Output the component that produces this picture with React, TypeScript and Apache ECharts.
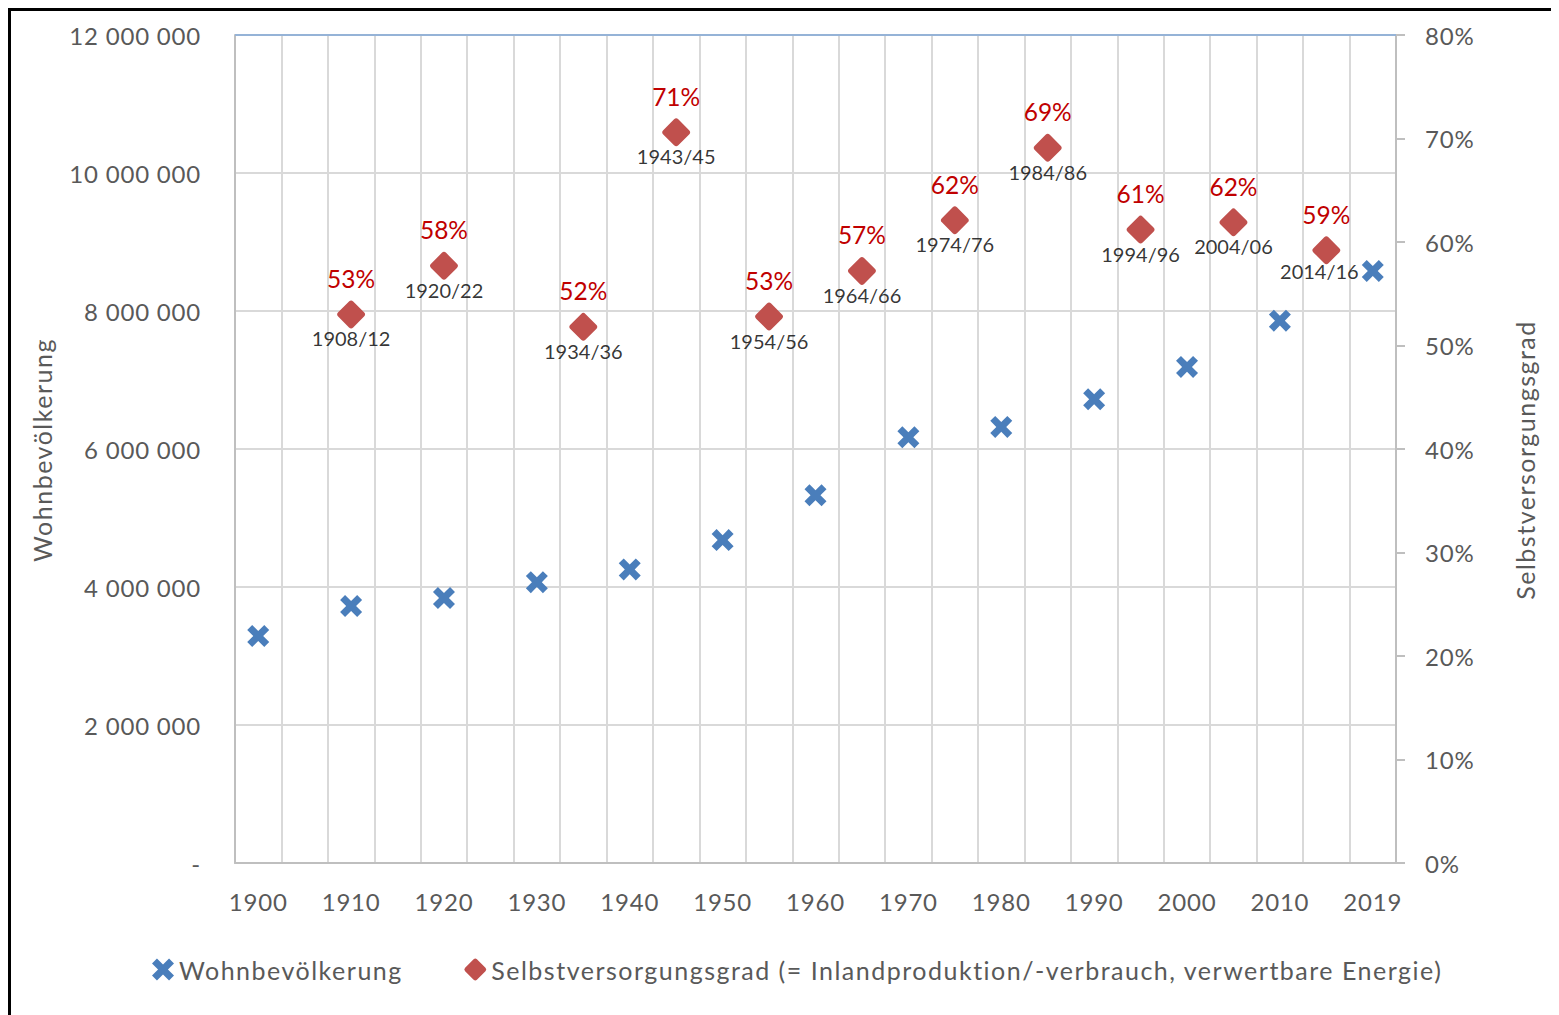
import React, { useEffect, useRef } from "react";
import * as echarts from "echarts";

const years = ["1900", "1910", "1920", "1930", "1940", "1950", "1960", "1970", "1980", "1990", "2000", "2010", "2019"];
const population = [3290000, 3725000, 3840000, 4070000, 4255000, 4680000, 5330000, 6170000, 6320000, 6720000, 7190000, 7860000, 8580000];

const periods = ["1908/12", "1920/22", "1934/36", "1943/45", "1954/56", "1964/66", "1974/76", "1984/86", "1994/96", "2004/06", "2014/16"];
const periodPos = [2, 3, 4.5, 5.5, 6.5, 7.5, 8.5, 9.5, 10.5, 11.5, 12.5];
const selfSufficiency = [53.0, 57.7, 51.8, 70.6, 52.8, 57.2, 62.1, 69.1, 61.2, 61.9, 59.2];

const leftTicks = [0, 2000000, 4000000, 6000000, 8000000, 10000000, 12000000];

const popName = "Wohnbevölkerung";
const ssName = "Selbstversorgungsgrad (= Inlandproduktion/-verbrauch, verwertbare Energie)";

const X_PATH = "path://M0,4.5 L4.5,0 L10,5.5 L15.5,0 L20,4.5 L14.5,10 L20,15.5 L15.5,20 L10,14.5 L4.5,20 L0,15.5 L5.5,10 Z";
const DIAMOND_PATH = "path://M8.6,1.4 Q10,0 11.4,1.4 L18.6,8.6 Q20,10 18.6,11.4 L11.4,18.6 Q10,20 8.6,18.6 L1.4,11.4 Q0,10 1.4,8.6 Z";

const FONT = "Lato, 'Noto Sans', sans-serif";
const GRAY = "#595959";
const BLUE = "#4A7EBB";
const RED = "#C0504D";

function fmtPop(v: number) {
  if (v === 0) return "-";
  return String(v).replace(/\B(?=(\d{3})+(?!\d))/g, " ");
}

const CSS = `
#root text[style*="25px"] { letter-spacing: 1.5px; }
#root text[style*="24px"] { letter-spacing: 0.8px; }
`;

export default function App() {
  const ref = useRef<HTMLDivElement>(null);
  useEffect(() => {
    document.documentElement.style.overflow = "hidden";
    document.body.style.overflow = "hidden";
    if (!ref.current) return;
    const chart = echarts.init(ref.current, undefined, { renderer: "svg" });
    const popData = population.map((v, i) => [i + 1, v]);
    const ssData = selfSufficiency.map((v, i) => [periodPos[i], v]);
    const option: any = {
      animation: false,
      backgroundColor: "#fff",
      textStyle: { fontFamily: FONT },
      grid: { left: 224, top: 24, width: 1161, height: 828, containLabel: false },
      legend: {
        left: 136,
        top: 941,
        itemWidth: 22,
        itemHeight: 22,
        itemGap: 84,
        textStyle: { fontSize: 25, color: GRAY, fontFamily: FONT },
        data: [
          { name: popName, icon: X_PATH, itemStyle: { color: BLUE } },
          { name: ssName, icon: DIAMOND_PATH, itemStyle: { color: RED } },
        ],
      },
      xAxis: {
        type: "value",
        min: 0.75,
        max: 13.25,
        interval: 0.5,
        axisLine: { show: true, lineStyle: { color: "#BFBFBF", width: 2 } },
        axisTick: { show: false },
        splitLine: { show: true, lineStyle: { color: "#D9D9D9", width: 2 } },
        axisLabel: {
          customValues: years.map((_, i) => i + 1),
          formatter: (v: number) => years[Math.round(v) - 1] ?? "",
          fontSize: 24,
          color: GRAY,
          fontFamily: FONT,
          margin: 26,
        },
      },
      yAxis: [
        {
          type: "value",
          min: 0,
          max: 12000000,
          interval: 2000000,
          position: "left",
          axisLine: { show: true, lineStyle: { color: "#BFBFBF", width: 2 } },
          axisTick: { show: false },
          splitLine: { show: true, lineStyle: { color: "#D9D9D9", width: 2 } },
          axisLabel: {
            formatter: (v: number) => fmtPop(v),
            fontSize: 24,
            color: GRAY,
            fontFamily: FONT,
            margin: 34,
          },
        },
        {
          type: "value",
          min: 0,
          max: 80,
          interval: 10,
          position: "right",
          axisLine: { show: true, lineStyle: { color: "#BFBFBF", width: 2 } },
          axisTick: { show: true, length: 9, lineStyle: { color: "#BFBFBF", width: 2 } },
          splitLine: { show: false },
          axisLabel: {
            formatter: "{value}%",
            fontSize: 24,
            color: GRAY,
            fontFamily: FONT,
            margin: 29,
          },
        },
      ],
      graphic: [
        {
          type: "text",
          x: 31,
          y: 439,
          rotation: Math.PI / 2,
          style: {
            text: "Wohnbevölkerung",
            fill: GRAY,
            fontSize: 25,
            fontFamily: FONT,
            align: "center",
            verticalAlign: "middle",
            textAlign: "center",
            textVerticalAlign: "middle",
          },
        },
        {
          type: "text",
          x: 1514,
          y: 449,
          rotation: Math.PI / 2,
          style: {
            text: "Selbstversorgungsgrad",
            fill: GRAY,
            fontSize: 25,
            fontFamily: FONT,
            align: "center",
            verticalAlign: "middle",
            textAlign: "center",
            textVerticalAlign: "middle",
          },
        },
      ],
      series: [
        {
          name: popName,
          type: "scatter",
          xAxisIndex: 0,
          yAxisIndex: 0,
          symbol: X_PATH,
          symbolSize: 22,
          itemStyle: { color: BLUE, opacity: 1 },
          data: popData,
          z: 3,
          markLine: {
            silent: true,
            symbol: "none",
            label: { show: false },
            lineStyle: { color: "#95B3D7", width: 2, type: "solid" },
            data: [{ yAxis: leftTicks[leftTicks.length - 1] }],
          },
        },
        {
          name: ssName,
          type: "scatter",
          xAxisIndex: 0,
          yAxisIndex: 1,
          symbol: DIAMOND_PATH,
          symbolSize: 28,
          itemStyle: { color: RED, opacity: 1 },
          data: ssData,
          z: 4,
          label: {
            show: true,
            position: "inside",
            offset: [0, -36],
            formatter: (p: any) => Math.round(p.value[1]) + "%",
            fontSize: 24.5,
            color: "#C00000",
            fontFamily: FONT,
          },
        },
        {
          name: "periods",
          type: "scatter",
          xAxisIndex: 0,
          yAxisIndex: 1,
          symbolSize: 1,
          itemStyle: { color: "rgba(0,0,0,0)" },
          silent: true,
          z: 5,
          data: ssData.map((d, i) => ({
            value: d,
            label: i === ssData.length - 1 ? { offset: [-7, 21] } : undefined,
          })),
          label: {
            show: true,
            position: "inside",
            offset: [0, 24],
            formatter: (p: any) => periods[p.dataIndex],
            fontSize: 20,
            color: "#000",
            fontFamily: FONT,
          },
        },
      ],
    };
    chart.setOption(option);
    return () => chart.dispose();
  }, []);
  return (
    <div style={{ borderLeft: "3px solid #000", borderTop: "3px solid #000", width: 1548, height: 1004 }}>
      <style>{CSS}</style>
      <div ref={ref} style={{ width: 1548, height: 1004 }} />
    </div>
  );
}
